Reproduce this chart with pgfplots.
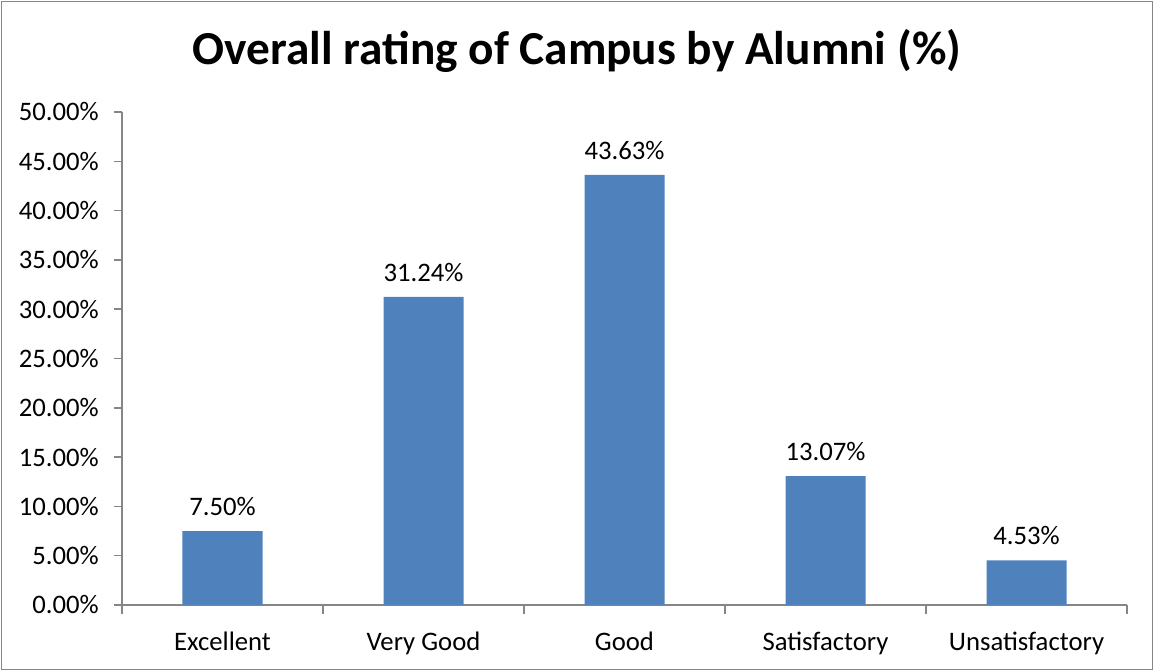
\documentclass[border=0pt]{standalone}
\usepackage{pgfplots}
\pgfplotsset{compat=1.18}
\usepackage{fontspec}
\setmainfont{Carlito}
\definecolor{barblue}{HTML}{4F81BD}
\definecolor{axgray}{HTML}{868686}
\begin{document}
\begin{tikzpicture}[x=1bp,y=1bp]
\useasboundingbox (-122,-66) rectangle (1032,605);
\draw[axgray, line width=1.5bp] (-120.5,-64.5) rectangle (1030.5,603.5);
\node[font=\fontsize{47.5}{52}\bfseries\selectfont, anchor=base] at (455,540) {Overall rating of Campus by Alumni (\%)};
\begin{axis}[
  at={(0,0)}, anchor=south west,
  scale only axis, width=1005bp, height=493bp,
  xmin=-0.5, xmax=4.5, ymin=0, ymax=50,
  axis lines=left,
  axis line style={draw=axgray, line width=1.5bp, -},
  tick style={draw=axgray, line width=1.5bp},
  tick align=outside,
  major tick length=8bp,
  minor tick length=9bp,
  xtick={0,1,2,3,4},
  xticklabels={Excellent,Very Good,Good,Satisfactory,Unsatisfactory},
  x tick style={draw=none},
  minor xtick={-0.5,0.5,1.5,2.5,3.5,4.5},
  minor x tick style={draw=axgray, line width=1.5bp},
  ytick={0,5,...,50},
  yticklabel={\pgfmathprintnumber[fixed,fixed zerofill,precision=2]{\tick}\%},
  /pgf/number format/assume math mode=true,
  ticklabel style={font=\fontsize{26.8}{30}\selectfont},
  yticklabel style={inner sep=0pt, xshift=-15bp},
  xticklabel style={inner sep=0pt, yshift=-19bp},
  ybar, bar width=80bp,
  nodes near coords={\pgfmathprintnumber[fixed,fixed zerofill,precision=2]{\pgfplotspointmeta}\%},
  every node near coord/.append style={font=\fontsize{26.8}{30}\selectfont, inner sep=0pt, yshift=15bp, black},
  clip=false,
]
\addplot[fill=barblue, draw=none] coordinates {(0,7.50) (1,31.24) (2,43.63) (3,13.07) (4,4.53)};
\end{axis}
\end{tikzpicture}
\end{document}
